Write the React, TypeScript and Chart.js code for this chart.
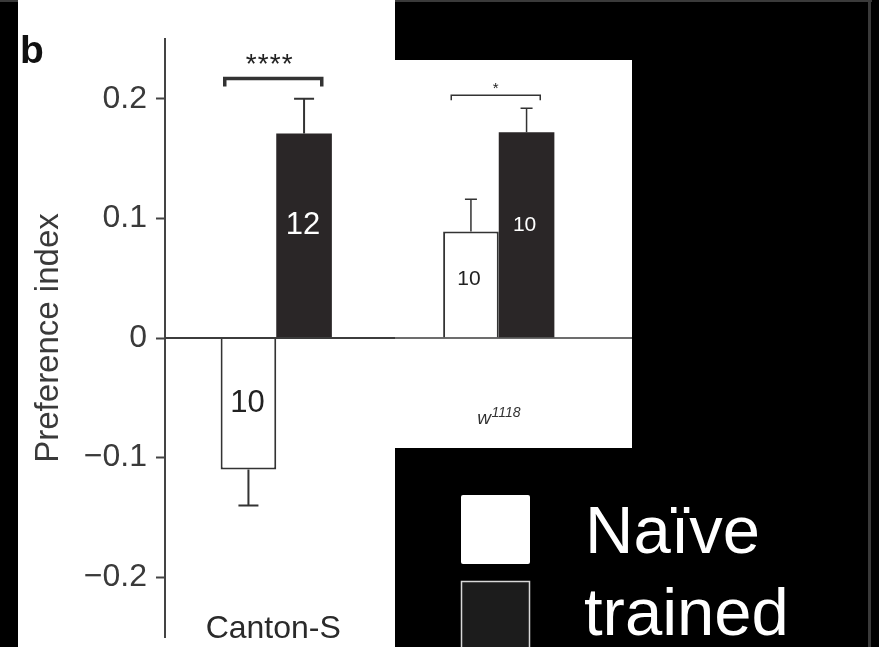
import { useEffect, useRef } from 'react';
import { Chart, registerables } from 'chart.js';

Chart.register(...registerables);

// ---- data ----
const categories = ['Canton-S', 'w1118'];
const seriesLabels = ['Naïve', 'trained'];
const naiveValues = [-0.11, 0.089];
const naiveErrors = [0.03, 0.027];
const trainedValues = [0.171, 0.172];
const trainedErrors = [0.029, 0.02];
const naiveCounts = ['10', '10'];
const trainedCounts = ['12', '10'];
const significance = ['****', '*'];
const bracketLevels = [0.217, 0.203];
const tickValues = [0.2, 0.1, 0, -0.1, -0.2];
const tickLabels = ['0.2', '0.1', '0', '−0.1', '−0.2'];

const FONT = '"Liberation Sans", Arial, Helvetica, sans-serif';
const AXIS_GRAY = '#3a3a3a';
const DARK = '#2a2627';

const panelPlugin = {
  id: 'panels',
  beforeDraw(chart: any) {
    const { ctx, width, height } = chart;
    ctx.save();
    ctx.fillStyle = '#000';
    ctx.fillRect(0, 0, width, height);
    ctx.fillStyle = '#3a3a3a';
    ctx.fillRect(0, 0, 872, 2);
    ctx.fillRect(868, 0, 3, height);
    ctx.fillStyle = '#fff';
    ctx.fillRect(18, 0, 377, height);
    ctx.fillRect(395, 60, 237, 388);
    ctx.restore();
  },
  afterDatasetsDraw(chart: any) {
    const { ctx } = chart;
    const y = chart.scales.y;
    const y0 = y.getPixelForValue(0);
    ctx.save();
    // zero line
    ctx.strokeStyle = '#3c3c3c';
    ctx.lineWidth = 2;
    ctx.beginPath();
    ctx.moveTo(chart.chartArea.left, y0);
    ctx.lineTo(395, y0);
    ctx.stroke();
    ctx.lineWidth = 1.5;
    ctx.beginPath();
    ctx.moveTo(395, y0);
    ctx.lineTo(632, y0);
    ctx.stroke();

    const sets: [number[], number[], string[]][] = [
      [naiveValues, naiveErrors, naiveCounts],
      [trainedValues, trainedErrors, trainedCounts],
    ];
    const metas = [chart.getDatasetMeta(0), chart.getDatasetMeta(1)];
    sets.forEach(([vals, errs, counts], di) => {
      metas[di].data.forEach((bar: any, i: number) => {
        const v = vals[i];
        const end = v + Math.sign(v) * errs[i];
        const yv = y.getPixelForValue(v);
        const ye = y.getPixelForValue(end);
        const lw = i === 0 ? 2 : 1.5;
        const cap = i === 0 ? 10 : 6;
        ctx.strokeStyle = '#333';
        ctx.lineWidth = lw;
        ctx.beginPath();
        ctx.moveTo(bar.x, yv);
        ctx.lineTo(bar.x, ye);
        ctx.moveTo(bar.x - cap, ye);
        ctx.lineTo(bar.x + cap, ye);
        ctx.stroke();
        // count label
        const frac = v < 0 ? 0.5 : 0.45;
        const ly = yv + frac * (y0 - yv);
        ctx.fillStyle = di === 1 ? '#fff' : '#222';
        ctx.font = `${i === 0 ? 31 : 21}px ${FONT}`;
        ctx.textAlign = 'center';
        ctx.textBaseline = 'middle';
        ctx.fillText(counts[i], bar.x - (i === 0 ? 1 : 2), ly);
      });
    });

    // significance brackets
    categories.forEach((_, i) => {
      const cx = (metas[0].data[i].x + metas[1].data[i].x) / 2;
      const half = i === 0 ? 48.5 : 44.5;
      const drop = i === 0 ? 8 : 5;
      const by = y.getPixelForValue(bracketLevels[i]);
      ctx.strokeStyle = '#333';
      ctx.lineWidth = i === 0 ? 3.5 : 1.5;
      ctx.lineJoin = 'miter';
      ctx.beginPath();
      ctx.moveTo(cx - 3 - half, by + drop);
      ctx.lineTo(cx - 3 - half, by);
      ctx.lineTo(cx - 3 + half, by);
      ctx.lineTo(cx - 3 + half, by + drop);
      ctx.stroke();
      ctx.fillStyle = '#222';
      ctx.textAlign = 'center';
      ctx.textBaseline = 'alphabetic';
      ctx.font = `${i === 0 ? 28 : 15}px ${FONT}`;
      if (i === 0) {
        const stars = significance[i].split('');
        const step = 12;
        stars.forEach((s, k) => {
          ctx.fillText(s, cx - 7 + (k - (stars.length - 1) / 2) * step, by - 5);
        });
      } else {
        ctx.fillText(significance[i], cx - 3, by - 2);
      }
    });
    ctx.restore();
  },
  afterDraw(chart: any) {
    const { ctx } = chart;
    const metas = [chart.getDatasetMeta(0), chart.getDatasetMeta(1)];
    ctx.save();
    // panel letter
    ctx.fillStyle = '#111';
    ctx.font = `bold 39px ${FONT}`;
    ctx.textAlign = 'left';
    ctx.textBaseline = 'alphabetic';
    ctx.fillText('b', 20, 63);

    // category labels
    const c0 = (metas[0].data[0].x + metas[1].data[0].x) / 2;
    ctx.fillStyle = '#2a2a2a';
    ctx.font = `32px ${FONT}`;
    ctx.textAlign = 'center';
    ctx.fillText(categories[0], c0 - 3, 638);

    const c1 = (metas[0].data[1].x + metas[1].data[1].x) / 2;
    ctx.font = `italic 19px ${FONT}`;
    const wW = ctx.measureText('w').width;
    ctx.font = `italic 14px ${FONT}`;
    const supW = ctx.measureText('1118').width;
    const startX = c1 - (wW + supW) / 2;
    ctx.textAlign = 'left';
    ctx.fillStyle = '#333';
    ctx.font = `italic 19px ${FONT}`;
    ctx.fillText('w', startX, 424);
    ctx.font = `italic 14px ${FONT}`;
    ctx.fillText('1118', startX + wW + 0.5, 417);

    // legend
    ctx.fillStyle = '#fff';
    ctx.beginPath();
    (ctx as any).roundRect(461, 495, 69, 69, 2);
    ctx.fill();
    ctx.fillStyle = '#1c1c1c';
    ctx.fillRect(461, 581, 69, 70);
    ctx.strokeStyle = '#d8d8d8';
    ctx.lineWidth = 1.5;
    ctx.strokeRect(461.5, 581.5, 68, 70);
    ctx.fillStyle = '#fff';
    ctx.font = `67px ${FONT}`;
    ctx.textAlign = 'left';
    ctx.fillText(seriesLabels[0], 585, 553);
    ctx.fillText(seriesLabels[1], 584, 635);
    ctx.restore();
  },
};

export default function App() {
  const ref = useRef<HTMLCanvasElement>(null);
  useEffect(() => {
    const chart = new Chart(ref.current as HTMLCanvasElement, {
      type: 'bar',
      data: {
        labels: categories,
        datasets: [
          {
            label: seriesLabels[0],
            data: naiveValues,
            backgroundColor: '#fff',
            borderColor: '#333',
            borderWidth: 2,
          },
          {
            label: seriesLabels[1],
            data: trainedValues,
            backgroundColor: DARK,
            borderColor: DARK,
            borderWidth: 0,
          },
        ],
      },
      options: {
        responsive: false,
        devicePixelRatio: 1,
        animation: false,
        layout: {
          autoPadding: false,
          padding: { left: 18, right: 269, top: 39, bottom: 10 },
        },
        datasets: {
          bar: { categoryPercentage: 0.5, barPercentage: 1 },
        },
        plugins: {
          legend: { display: false },
          tooltip: { enabled: false },
        },
        scales: {
          x: { display: false },
          y: {
            min: -0.25,
            max: 0.25,
            afterBuildTicks: (scale: any) => {
              scale.ticks = tickValues.map((v) => ({ value: v }));
            },
            afterFit: (scale: any) => {
              scale.width = 147;
              scale.paddingTop = 0;
              scale.paddingBottom = 0;
            },
            grid: {
              drawOnChartArea: false,
              drawTicks: true,
              tickLength: 9,
              tickColor: '#444',
              tickWidth: 2,
            },
            border: { display: true, color: '#444', width: 2 },
            ticks: {
              padding: 9,
              color: AXIS_GRAY,
              font: { family: FONT, size: 32 },
              callback: (_v: any, index: number) => tickLabels[index],
            },
            title: {
              display: true,
              text: 'Preference index',
              color: AXIS_GRAY,
              font: { family: FONT, size: 33 },
              padding: { top: 11, bottom: 0 },
            },
          },
        },
      } as any,
      plugins: [panelPlugin],
    });
    return () => chart.destroy();
  }, []);
  return (
    <div style={{ position: 'fixed', left: 0, top: 0, width: 879, height: 647, background: '#000' }}>
      <canvas ref={ref} width={879} height={647} style={{ display: 'block', width: 879, height: 647 }} />
    </div>
  );
}
